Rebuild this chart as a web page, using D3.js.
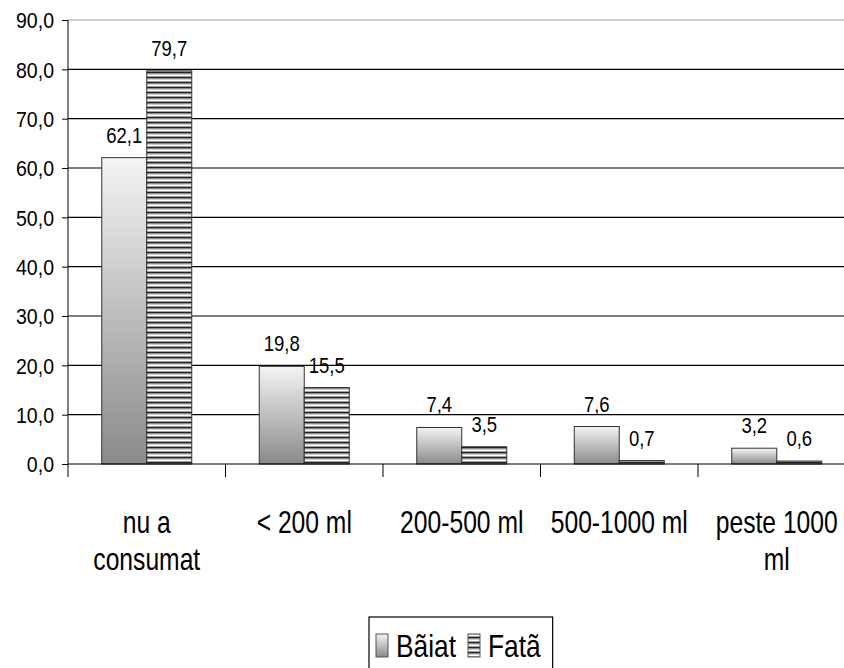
<!DOCTYPE html>
<html>
<head>
<meta charset="utf-8">
<script src="https://cdn.jsdelivr.net/npm/d3@7"></script>
<style>
    body { margin: 0; background: #fff; }
    text { fill: #000; }
</style>
</head>
<body>
<div id="chart"></div>
<script>
// data
const categories = ["nu a consumat", "< 200 ml", "200-500 ml", "500-1000 ml", "peste 1000 ml"];
const seriesNames = ["Bãiat", "Fatã"];
const baiatValues = [62.1, 19.8, 7.4, 7.6, 3.2];
const fataValues = [79.7, 15.5, 3.5, 0.7, 0.6];
const yTicks = [0, 10, 20, 30, 40, 50, 60, 70, 80, 90];

const width = 844, height = 668;
const margin = {top: 20, left: 68, bottom: 204};

const fmt = d => d3.format(".1f")(d).replace(".", ",");

let svg = d3.select("#chart").append("svg")
    .attr("width", width)
    .attr("height", height);

// pick a narrow font if there is one, otherwise plain Liberation Sans
function textWidth(str, family) {
    let t = svg.append("text").style("font-family", family).style("font-size", "100px").text(str);
    let w = t.node().getComputedTextLength();
    t.remove();
    return w;
}
const narrowOk = textWidth("< 200 ml", '"Liberation Sans Narrow", monospace') !== textWidth("< 200 ml", "monospace");
const family = narrowOk ? '"Liberation Sans Narrow", "Liberation Sans", Arial, sans-serif' : '"Liberation Sans", Arial, sans-serif';

// font size from a target width, vertical stretch from a target cap height
function textStyle(sample, targetW, capH) {
    let size = targetW / textWidth(sample, family) * 100;
    return {size: size, sy: capH / (0.716 * size)};
}
const tickStyle = textStyle("90,0", 38, 15.5);
const valueStyle = textStyle("79,7", 36, 15.5);
const catStyle = textStyle("peste 1000", 122, 23);
const legStyle = textStyle("Bãiat", 60, 23);

// gradient + stripes for the two series
let defs = svg.append("defs");
let grad = defs.append("linearGradient")
    .attr("id", "gradBaiat")
    .attr("x1", 0).attr("y1", 0).attr("x2", 0).attr("y2", 1);
grad.append("stop").attr("offset", "0%").attr("stop-color", "#f4f4f4");
grad.append("stop").attr("offset", "100%").attr("stop-color", "#8a8a8a");

let pat = defs.append("pattern")
    .attr("id", "stripesFata")
    .attr("patternUnits", "userSpaceOnUse")
    .attr("width", 8).attr("height", 5);
pat.append("rect").attr("width", 8).attr("height", 5).attr("fill", "#fff");
pat.append("rect").attr("y", 1).attr("width", 8).attr("height", 1).attr("fill", "#a0a0a0");
pat.append("rect").attr("y", 2).attr("width", 8).attr("height", 1.6).attr("fill", "#222");
pat.append("rect").attr("y", 3.6).attr("width", 8).attr("height", 0.9).attr("fill", "#a0a0a0");

// scales
let x = d3.scaleBand()
    .domain(categories)
    .range([margin.left, margin.left + 5 * 157.5])
    .padding(0);

let xInner = d3.scaleBand()
    .domain(seriesNames)
    .range([0, x.bandwidth()])
    .paddingInner(0)
    .paddingOuter(0.75);

let y = d3.scaleLinear()
    .domain([0, 90])
    .range([height - margin.bottom, margin.top]);

// grid lines
svg.append("g")
    .selectAll("line")
    .data(yTicks.filter(t => t > 0))
    .enter().append("line")
    .attr("x1", margin.left).attr("x2", width)
    .attr("y1", d => y(d)).attr("y2", d => y(d))
    .attr("stroke", d => d === 90 ? "#999" : "#000")
    .attr("stroke-width", 1.2);

// bars
let rows = categories.map((c, i) => ({cat: c, values: [baiatValues[i], fataValues[i]]}));

let groups = svg.append("g")
    .selectAll("g")
    .data(rows)
    .enter().append("g")
    .attr("transform", d => `translate(${x(d.cat)},0)`);

groups.selectAll("rect")
    .data(d => d.values.map((v, j) => ({name: seriesNames[j], value: v})))
    .enter().append("rect")
    .attr("x", d => xInner(d.name))
    .attr("y", d => y(d.value))
    .attr("width", xInner.bandwidth())
    .attr("height", d => y(0) - y(d.value))
    .attr("fill", d => d.name === seriesNames[0] ? "url(#gradBaiat)" : "url(#stripesFata)")
    .attr("stroke", "#333")
    .attr("stroke-width", 1);

// value labels
groups.selectAll("text")
    .data(d => d.values.map((v, j) => ({name: seriesNames[j], value: v})))
    .enter().append("text")
    .attr("text-anchor", "middle")
    .style("font-family", family)
    .style("font-size", valueStyle.size + "px")
    .attr("transform", d => `translate(${xInner(d.name) + xInner.bandwidth() / 2},${y(d.value) - 15}) scale(1,${valueStyle.sy})`)
    .text(d => fmt(d.value));

// y axis
let yAxis = svg.append("g")
    .attr("transform", `translate(${margin.left},0)`)
    .call(d3.axisLeft(y).tickValues(yTicks).tickSize(6).tickPadding(8).tickFormat(fmt));
yAxis.select(".domain").attr("stroke", "#000").attr("d", `M0,${y(90)}V${y(0)}`);
yAxis.selectAll(".tick line").attr("stroke", "#000");
yAxis.selectAll(".tick text")
    .attr("font-family", null)
    .attr("font-size", null)
    .style("font-family", family)
    .style("font-size", tickStyle.size + "px")
    .attr("dy", "0.36em")
    .attr("transform", `scale(1,${tickStyle.sy})`)
    .attr("y", 0);

// x axis line + category separators
svg.append("line")
    .attr("x1", margin.left).attr("x2", width)
    .attr("y1", y(0)).attr("y2", y(0))
    .attr("stroke", "#000").attr("stroke-width", 1.2);

let sepPos = categories.map(c => x(c)).concat([x(categories[categories.length - 1]) + x.bandwidth()]);
svg.append("g")
    .selectAll("line")
    .data(sepPos)
    .enter().append("line")
    .attr("x1", d => d).attr("x2", d => d)
    .attr("y1", y(0)).attr("y2", y(0) + 13)
    .attr("stroke", "#000");

// category labels, wrapped
let catLabels = svg.append("g")
    .selectAll("text")
    .data(categories)
    .enter().append("text")
    .attr("text-anchor", "middle")
    .style("font-family", family)
    .style("font-size", catStyle.size + "px")
    .attr("transform", d => `translate(${x(d) + x.bandwidth() / 2},533) scale(1,${catStyle.sy})`);

catLabels.each(function(d) {
    let el = d3.select(this);
    let words = d.split(" ");
    let lines = [];
    let line = [];
    let tmp = el.append("tspan");
    words.forEach(w => {
        line.push(w);
        tmp.text(line.join(" "));
        if (tmp.node().getComputedTextLength() > 145 && line.length > 1) {
            line.pop();
            lines.push(line.join(" "));
            line = [w];
        }
    });
    lines.push(line.join(" "));
    tmp.remove();
    lines.forEach((l, i) => {
        el.append("tspan")
            .attr("x", 0)
            .attr("dy", i === 0 ? 0 : 37 / catStyle.sy)
            .text(l);
    });
});

// legend
let legend = svg.append("g");
let legBox = legend.append("rect")
    .attr("fill", "#fff")
    .attr("stroke", "#000")
    .attr("stroke-width", 1.2);

let lx = 376;
seriesNames.forEach((name, j) => {
    legend.append("rect")
        .attr("x", lx).attr("y", 634)
        .attr("width", 12).attr("height", 23)
        .attr("fill", j === 0 ? "url(#gradBaiat)" : "url(#stripesFata)")
        .attr("stroke", "#555");
    let t = legend.append("text")
        .style("font-family", family)
        .style("font-size", legStyle.size + "px")
        .attr("transform", `translate(${lx + 20},657) scale(1,${legStyle.sy})`)
        .text(name);
    lx += 20 + t.node().getComputedTextLength() + 12;
});
legBox.attr("x", 369).attr("y", 617).attr("width", lx - 369).attr("height", 70);
</script>
</body>
</html>
